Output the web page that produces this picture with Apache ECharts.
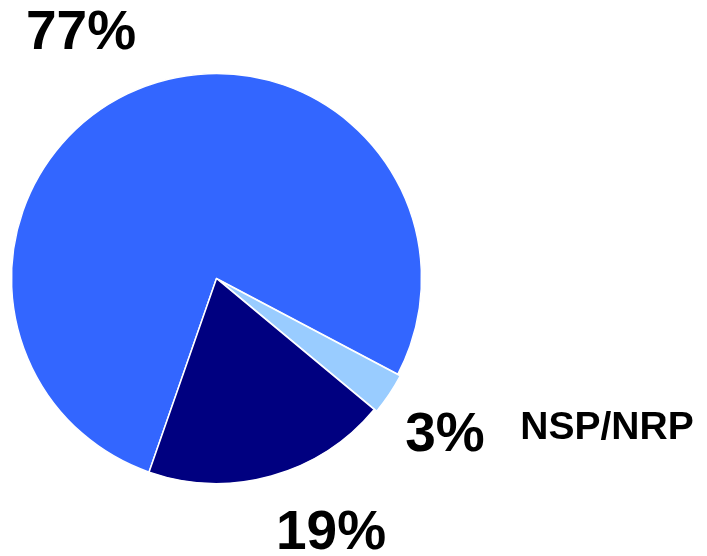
<!DOCTYPE html>
<html>
<head>
<meta charset="utf-8">
<script src="https://cdn.jsdelivr.net/npm/echarts@6/dist/echarts.min.js"></script>
<style>html,body{margin:0;padding:0;background:#fff}#c{width:707px;height:556px}</style>
</head>
<body>
<div id="c"></div>
<script>
// Data (order: clockwise from the lower-left boundary)
var categories = ['Other', 'NSP/NRP', 'Other2'];
var shownNames = ['', 'NSP/NRP', ''];
var values = [77.4, 3.3, 19.3];
var colors = ['#3366FF', '#99CCFF', '#000080'];

// Label placement (layout, not data)
var pctPos = [[81, 34], [445, 436], [331, 534]];
var namePos = [null, [607, 428], null];
var FONT = 'Liberation Sans, Arial, sans-serif';

var chart = echarts.init(document.getElementById('c'));
var data = values.map(function (v, i) {
  return {
    value: v,
    name: categories[i],
    selected: i === 1,
    itemStyle: {color: colors[i]}
  };
});

var graphics = [];
values.forEach(function (v, i) {
  graphics.push({
    type: 'text',
    x: pctPos[i][0], y: pctPos[i][1],
    style: {
      text: Math.round(v) + '%',
      font: 'bold 55px ' + FONT,
      fill: '#000',
      textAlign: 'center',
      textVerticalAlign: 'middle'
    }
  });
  if (shownNames[i]) {
    graphics.push({
      type: 'text',
      x: namePos[i][0], y: namePos[i][1],
      style: {
        text: shownNames[i],
        font: 'bold 39px ' + FONT,
        fill: '#000',
        textAlign: 'center',
        textVerticalAlign: 'middle'
      }
    });
  }
});

chart.setOption({
  animation: false,
  graphic: graphics,
  series: [{
    type: 'pie',
    center: [216.5, 278.5],
    radius: 205,
    startAngle: 250.8,
    clockwise: true,
    selectedMode: 'single',
    selectedOffset: 3,
    itemStyle: {borderColor: '#ffffff', borderWidth: 1.5},
    emphasis: {disabled: true},
    labelLine: {show: false},
    label: {show: false},
    data: data
  }]
});
</script>
</body>
</html>
